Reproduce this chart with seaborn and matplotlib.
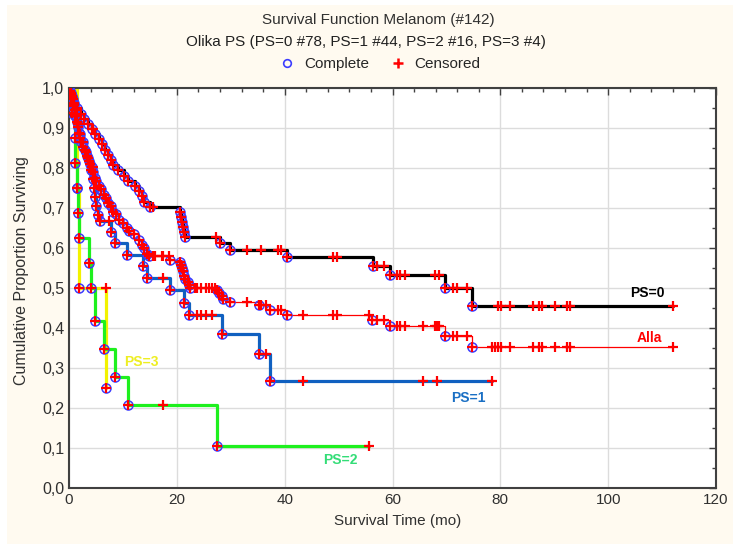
import numpy as np
import pandas as pd
import matplotlib
matplotlib.use("Agg")
import matplotlib.pyplot as plt
import matplotlib.ticker as mticker
from matplotlib.lines import Line2D
from matplotlib.patches import Rectangle
import seaborn as sns

# ===== data =====
# PS=0 (black)
ps0_t = [0.3, 0.6, 1.0, 1.5, 2.2, 2.8, 3.5, 4.2, 4.9, 5.6, 6.2, 6.7, 7.3, 7.8, 8.1, 9.0, 10.2, 11.0,
         12.2, 12.9, 13.5, 14.0, 15.0, 20.6, 20.8, 21.0, 21.2, 21.4, 21.5, 28.0, 29.9, 40.5, 56.3,
         59.6, 69.8, 74.8]
ps0_s = [0.987, 0.974, 0.962, 0.949, 0.936, 0.923, 0.910, 0.897, 0.885, 0.872, 0.859, 0.846, 0.833,
         0.820, 0.807, 0.794, 0.781, 0.768, 0.755, 0.742, 0.729, 0.716, 0.703, 0.691, 0.678, 0.666,
         0.653, 0.641, 0.628, 0.612, 0.595, 0.577, 0.556, 0.532, 0.499, 0.456]
ps0_cens = [4.5, 15.6, 27.2, 33.0, 35.7, 38.8, 39.3, 49.0, 49.7, 57.2, 58.4, 60.8, 61.4, 62.3, 67.9,
            68.7, 71.3, 71.9, 73.8, 79.6, 80.1, 81.8, 86.1, 87.1, 87.7, 90.2, 92.3, 93.0, 112.0]
ps0_end = 112.0

# PS=1 (blue)
ps1_t = [0.3, 0.8, 1.2, 1.6, 2.1, 2.6, 3.2, 3.7, 4.0, 4.4, 4.6, 4.8, 5.0, 5.4, 5.8, 7.7, 8.6, 10.8,
         13.8, 14.4, 18.7, 21.4, 22.3, 28.4, 35.3, 37.3]
ps1_s = [0.977, 0.955, 0.932, 0.909, 0.886, 0.864, 0.841, 0.818, 0.795, 0.773, 0.750, 0.727, 0.705,
         0.682, 0.668, 0.641, 0.612, 0.582, 0.556, 0.526, 0.495, 0.462, 0.432, 0.384, 0.335, 0.268]
ps1_cens = [7.4, 17.5, 23.7, 24.5, 25.4, 26.5, 36.5, 43.4, 65.6, 68.2, 78.4]
ps1_end = 78.4

# PS=2 (green)
ps2_t = [0.5, 1.1, 1.2, 1.4, 1.7, 1.9, 3.8, 4.0, 4.8, 6.4, 8.5, 11.0, 27.4]
ps2_s = [0.9375, 0.875, 0.8125, 0.75, 0.6875, 0.625, 0.5625, 0.5, 0.4167, 0.3472, 0.2778, 0.2083, 0.1042]
ps2_cens = [17.5, 55.7]
ps2_end = 55.7

# PS=3 (yellow)
ps3_t = [1.5, 1.9, 6.9]
ps3_s = [0.75, 0.5, 0.25]
ps3_cens = [6.9]
ps3_end = 6.9

# Alla (all patients, thin red)
alla_t = [0.2, 0.4, 0.6, 0.8, 1.0, 1.1, 1.2, 1.4, 1.6, 1.8, 2.0, 2.3, 2.6, 3.0, 3.3, 3.6, 3.9, 4.2,
          4.5, 4.8, 5.1, 5.5, 6.0, 6.4, 6.8, 7.3, 7.8, 8.1, 8.7, 9.2, 10.0, 10.8, 11.2, 12.0, 12.9,
          13.6, 14.0, 14.5, 14.8, 18.7, 20.6, 20.8, 21.0, 21.2, 21.4, 21.6, 22.0, 22.3, 22.4, 27.4,
          27.8, 28.4, 28.6, 29.9, 35.3, 37.3, 40.5, 56.2, 59.6, 69.8, 74.8]
alla_s = [0.993, 0.986, 0.979, 0.972, 0.958, 0.944, 0.930, 0.916, 0.902, 0.888, 0.874, 0.866, 0.852,
          0.845, 0.831, 0.824, 0.810, 0.803, 0.789, 0.775, 0.768, 0.754, 0.747, 0.733, 0.726, 0.712,
          0.705, 0.691, 0.684, 0.670, 0.663, 0.649, 0.642, 0.635, 0.621, 0.607, 0.600, 0.586, 0.579,
          0.571, 0.564, 0.557, 0.550, 0.543, 0.529, 0.522, 0.515, 0.508, 0.501, 0.494, 0.487, 0.480,
          0.473, 0.466, 0.458, 0.446, 0.433, 0.420, 0.404, 0.380, 0.352]
alla_cens = [4.5, 6.9, 7.4, 15.6, 16.0, 17.3, 17.5, 18.5, 23.4, 23.7, 24.5, 25.4, 26.0, 26.5, 27.1,
             33.0, 35.7, 36.5, 38.8, 39.3, 43.4, 49.0, 49.7, 55.7, 57.2, 58.4, 60.8, 61.4, 62.3, 65.6,
             67.9, 68.2, 68.7, 71.3, 71.9, 73.8, 78.4, 79.0, 79.6, 80.1, 81.8, 86.1, 87.1, 87.7, 90.2,
             92.3, 93.0, 112.0]
alla_end = 112.0

x_ticks = [0, 20, 40, 60, 80, 100, 120]
y_ticks = [0.0, 0.1, 0.2, 0.3, 0.4, 0.5, 0.6, 0.7, 0.8, 0.9, 1.0]

# ===== figure =====
sns.set_style("white")
plt.rcParams["font.family"] = ["Liberation Sans", "DejaVu Sans"]
narrow = ["Liberation Sans Narrow", "Liberation Sans", "DejaVu Sans"]

W, H = 733, 544
fig = plt.figure(figsize=(W / 100, H / 100), dpi=100, facecolor="white")
fig.patches.append(Rectangle((7 / W, 0), 1, 1 - 5 / H, transform=fig.transFigure,
                             facecolor="#fffaf0", edgecolor="none", zorder=-10))
ax = fig.add_axes([69 / W, 1 - 488 / H, (716 - 69) / W, 400 / H])
ax.set_facecolor("white")

RING = "#3c3cff"


def draw_curve(t, s, cens, end, color, lw, z):
    xs = [0.0] + list(t) + [end]
    ys = [1.0] + list(s) + [s[-1]]
    df = pd.DataFrame({"t": xs, "s": ys})
    sns.lineplot(data=df, x="t", y="s", ax=ax, color=color, linewidth=lw,
                 drawstyle="steps-post", estimator=None, sort=False, zorder=z)
    levels = np.array([1.0] + list(s))
    cy = levels[np.searchsorted(np.array(t), np.array(cens), side="left")]
    ax.plot(t, s, "o", mfc="none", mec=RING, ms=6.5, mew=1.1, zorder=10)
    ax.plot(t, s, "+", color="red", ms=7, mew=1.6, zorder=11)
    ax.plot(cens, cy, "+", color="red", ms=7.5, mew=1.6, zorder=11)


draw_curve(ps3_t, ps3_s, ps3_cens, ps3_end, "#f2f200", 2.3, 2)
draw_curve(ps2_t, ps2_s, ps2_cens, ps2_end, "#1ef01e", 2.3, 3)
draw_curve(ps1_t, ps1_s, ps1_cens, ps1_end, "#1060c0", 2.3, 4)
draw_curve(ps0_t, ps0_s, ps0_cens, ps0_end, "black", 2.3, 5)
draw_curve(alla_t, alla_s, alla_cens, alla_end, "red", 0.9, 6)

# curve labels
ax.text(107.2, 0.4875, "PS=0", color="black", fontsize=10, fontweight="bold", ha="center", va="center")
ax.text(107.6, 0.375, "Alla", color="red", fontsize=10, fontweight="bold", ha="center", va="center")
ax.text(74.0, 0.225, "PS=1", color="#1a6fc4", fontsize=10, fontweight="bold", ha="center", va="center")
ax.text(50.3, 0.07, "PS=2", color="#33dd77", fontsize=10, fontweight="bold", ha="center", va="center")
ax.text(13.5, 0.315, "PS=3", color="#eeee22", fontsize=10, fontweight="bold", ha="center", va="center")

# axes
ax.set_xlim(0, 120)
ax.set_ylim(0, 1.0)
ax.set_xticks(x_ticks)
ax.set_yticks(y_ticks)
ax.xaxis.set_minor_locator(mticker.MultipleLocator(4))
ax.yaxis.set_minor_locator(mticker.MultipleLocator(0.05))
ax.yaxis.set_major_formatter(mticker.FuncFormatter(lambda v, p: f"{v:.1f}".replace(".", ",")))
ax.grid(True, which="major", color="#dcdcdc", linewidth=1.0)
ax.set_axisbelow(True)
ax.tick_params(which="both", direction="in", top=True, right=True, colors="#404040",
               labelcolor="#303030")
ax.tick_params(axis="y", labelsize=11.5)
ax.tick_params(axis="x", labelsize=11)
ax.tick_params(which="major", length=5, width=1)
ax.tick_params(which="minor", length=3, width=1)
for lab in ax.get_xticklabels():
    lab.set_family(narrow)
for sp in ax.spines.values():
    sp.set_color("#404040")
    sp.set_linewidth(1.5)
ax.set_xlabel("")
ax.set_ylabel("")

# titles / labels
fig.text(378 / W, 1 - 20 / H, "Survival Function Melanom (#142)", ha="center", va="center",
         fontsize=11, color="#303030")
fig.text(366 / W, 1 - 42 / H, "Olika PS (PS=0 #78, PS=1 #44, PS=2 #16, PS=3 #4)", ha="center",
         va="center", fontsize=11, color="#202020")
fig.text(22 / W, 1 - 271 / H, "Cumulative Proportion Surviving", rotation=90, ha="center",
         va="center", fontsize=11.5, color="#303030")
fig.text(398 / W, 1 - 521 / H, "Survival Time (mo)", ha="center", va="center", fontsize=11,
         color="#303030", family=narrow)

handles = [Line2D([], [], ls="none", marker="o", mfc="none", mec=RING, ms=5.5, mew=1.2),
           Line2D([], [], ls="none", marker="+", color="red", ms=7, mew=1.8)]
fig.legend(handles, ["Complete", "Censored"], ncol=2, frameon=False, loc="center",
           bbox_to_anchor=(380 / W, 1 - 64 / H), fontsize=11, handlelength=1.0,
           handletextpad=0.6, columnspacing=1.4)

fig.savefig("out.png", dpi=100, facecolor=fig.get_facecolor())
